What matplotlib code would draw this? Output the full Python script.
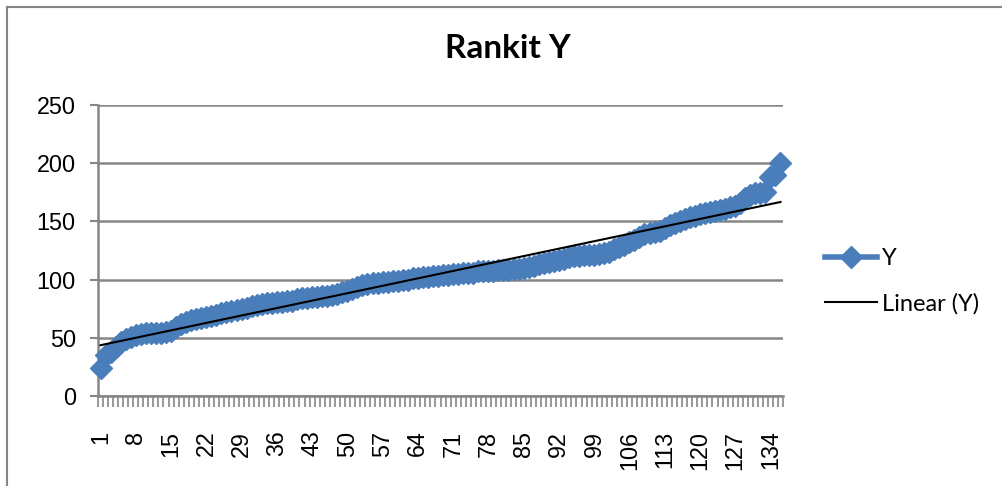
import numpy as np
import matplotlib
matplotlib.use('Agg')
import matplotlib.pyplot as plt
from matplotlib.lines import Line2D

# sorted Y values (136 ranks)
y_vals = [24, 35, 38, 42, 46, 49, 51, 52, 53, 54,
          54, 54, 54, 55, 56, 59, 62, 64, 65, 66,
          67, 68, 69, 70, 71, 72, 73, 74, 75, 76,
          77, 78, 79, 80, 80, 81, 81, 82, 82, 83,
          84, 84, 85, 85, 86, 86, 87, 88, 89, 90,
          92, 94, 95, 96, 97, 97, 98, 98, 99, 99,
          100, 100, 101, 101, 102, 102, 103, 103, 104, 104,
          105, 105, 106, 106, 106, 107, 107, 107, 107, 108,
          108, 108, 109, 109, 110, 111, 112, 113, 114, 115,
          116, 117, 118, 119, 120, 120, 121, 121, 121, 122,
          123, 124, 126, 128, 130, 132, 134, 137, 139, 140,
          141, 142, 144, 147, 149, 150, 152, 154, 155, 156,
          157, 158, 159, 160, 161, 162, 163, 166, 170, 173,
          174, 174, 175, 188, 190, 200]
ranks = np.arange(1, len(y_vals) + 1)
tick_labels = [str(r) for r in ranks[::7]]

blue = '#4A7EBB'
grey = '#868686'

fig = plt.figure(figsize=(10.03, 4.86), dpi=100)
ax = fig.add_axes([98 / 1003, 1 - 396 / 486, (783 - 98) / 1003, (396 - 105) / 486])

ax.plot(ranks, y_vals, color=blue, lw=4, marker='D', ms=11, label='Y',
        zorder=3, clip_on=False)

# linear trendline like Excel
k, b = np.polyfit(ranks, y_vals, 1)
ax.plot(ranks, k * ranks + b, color='black', lw=1.5, label='Linear (Y)', zorder=4)

ax.set_xlim(0.5, len(y_vals) + 0.5)
ax.set_ylim(0, 250)
ax.set_yticks(np.arange(0, 251, 50))
ax.yaxis.grid(True, color=grey, lw=1.8)
ax.set_axisbelow(True)

ax.set_xticks(np.arange(0.5, len(y_vals) + 1, 1))
ax.set_xticklabels([])
ax.set_xticks(ranks[::7], minor=True)
ax.set_xticklabels(tick_labels, minor=True, rotation=90, fontsize=16.8,
                   family='Liberation Sans', va='top')
ax.tick_params(axis='x', which='major', length=8, width=1.2, color=grey)
ax.tick_params(axis='x', which='minor', length=0, pad=25)
ax.tick_params(axis='y', length=6, width=1.5, color=grey, pad=10, labelsize=16.8)
for lab in ax.get_yticklabels():
    lab.set_family('Liberation Sans')

for s in ['top', 'right']:
    ax.spines[s].set_visible(False)
for s in ['left', 'bottom']:
    ax.spines[s].set_color(grey)
    ax.spines[s].set_linewidth(1.8)

fig.text(0.506, 1 - 48 / 486, 'Rankit Y', ha='center', va='center',
         fontsize=24, fontweight='bold', family='Lato')

leg = ax.legend(loc='center left', bbox_to_anchor=(825 / 1003, 1 - 281.5 / 486),
                bbox_transform=fig.transFigure, frameon=False, borderpad=0,
                borderaxespad=0, handlelength=2.2, handletextpad=0.2,
                labelspacing=1.0, prop={'family': 'Lato', 'size': 17})

# outer chart border
fig.add_artist(Line2D([7 / 1003, 7 / 1003], [0, 1 - 7 / 486], color=grey, lw=1.5))
fig.add_artist(Line2D([7 / 1003, 1], [1 - 7 / 486, 1 - 7 / 486], color=grey, lw=1.5))

fig.savefig('out.png', dpi=100)
